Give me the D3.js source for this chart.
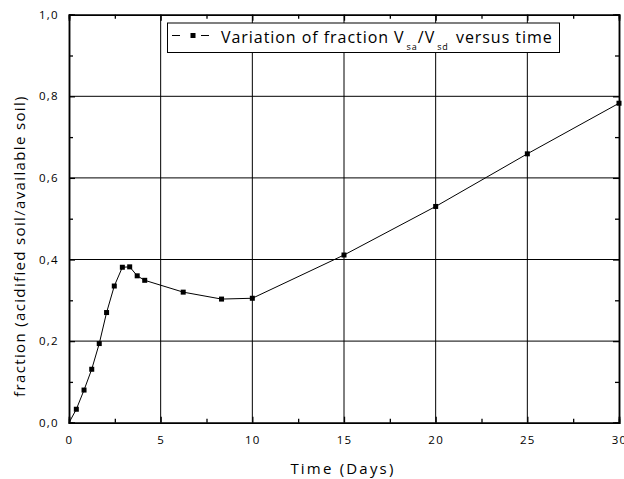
<!DOCTYPE html>
<html>
<head>
<meta charset="utf-8">
<script src="https://cdn.jsdelivr.net/npm/d3@7"></script>
<style>
  html, body { margin: 0; padding: 0; background: #fff; }
  svg { display: block; }
  text { font-family: "Open Sans", "DejaVu Sans", sans-serif; fill: #000; }
</style>
</head>
<body>
<svg id="chart" width="624" height="479"></svg>
<script>
// ---- data ----
const timeDays = [0.40, 0.82, 1.24, 1.65, 2.05, 2.47, 2.91, 3.31, 3.72, 4.13, 6.23, 8.32, 10.0, 15.0, 20.0, 25.0, 30.0];
const fraction = [0.033, 0.080, 0.131, 0.194, 0.270, 0.335, 0.381, 0.382, 0.360, 0.349, 0.320, 0.303, 0.305, 0.411, 0.530, 0.659, 0.783];
const xTicks = [0, 5, 10, 15, 20, 25, 30];
const yTicks = [0.0, 0.2, 0.4, 0.6, 0.8, 1.0];
const xMinorTicks = [2.5, 7.5, 12.5, 17.5, 22.5, 27.5];
const yMinorTicks = [0.1, 0.3, 0.5, 0.7, 0.9];
const xLabel = "Time (Days)";
const yLabel = "fraction (acidified soil/available soil)";
const legendLabel = "Variation of fraction V";

const svg = d3.select("#chart");
const pL = 69, pR = 619, pT = 14.7, pB = 422.7;

const x = d3.scaleLinear().domain([0, 30]).range([pL, pR]);
const y = d3.scaleLinear().domain([0, 1]).range([pB, pT]);
const fmt = d => d3.format(".1f")(d).replace(".", ",");

// grid
const grid = svg.append("g").attr("stroke", "#000").attr("stroke-width", 1);
grid.selectAll("line.v").data(xTicks.slice(1, -1)).enter().append("line")
  .attr("x1", d => x(d)).attr("x2", d => x(d)).attr("y1", pT).attr("y2", pB);
grid.selectAll("line.h").data(yTicks.slice(1, -1)).enter().append("line")
  .attr("x1", pL).attr("x2", pR).attr("y1", d => y(d)).attr("y2", d => y(d));

// axes
const gx = svg.append("g").attr("transform", `translate(0,${pB})`)
  .call(d3.axisBottom(x).tickValues(xTicks).tickSize(-6).tickPadding(13).tickFormat(d3.format("d")));
const gxm = svg.append("g").attr("transform", `translate(0,${pB})`)
  .call(d3.axisBottom(x).tickValues(xMinorTicks).tickSize(-4).tickFormat(""));
const gxt = svg.append("g").attr("transform", `translate(0,${pT})`)
  .call(d3.axisTop(x).tickValues(xTicks).tickSize(-6).tickFormat(""));
const gxtm = svg.append("g").attr("transform", `translate(0,${pT})`)
  .call(d3.axisTop(x).tickValues(xMinorTicks).tickSize(-4).tickFormat(""));
const gy = svg.append("g").attr("transform", `translate(${pL},0)`)
  .call(d3.axisLeft(y).tickValues(yTicks).tickSize(-6).tickPadding(10).tickFormat(fmt));
const gym = svg.append("g").attr("transform", `translate(${pL},0)`)
  .call(d3.axisLeft(y).tickValues(yMinorTicks).tickSize(-4).tickFormat(""));
const gyr = svg.append("g").attr("transform", `translate(${pR},0)`)
  .call(d3.axisRight(y).tickValues(yTicks).tickSize(-6).tickFormat(""));
const gyrm = svg.append("g").attr("transform", `translate(${pR},0)`)
  .call(d3.axisRight(y).tickValues(yMinorTicks).tickSize(-4).tickFormat(""));

[gx, gxm, gxt, gxtm, gy, gym, gyr, gyrm].forEach(g => {
  g.selectAll("path.domain").attr("stroke", "#000").attr("stroke-width", 1.5);
  g.selectAll(".tick line").attr("stroke", "#000").attr("stroke-width", 1.3);
  g.selectAll("text").attr("font-family", '"Open Sans", sans-serif').attr("font-size", 11.5)
    .attr("letter-spacing", "1.3px").attr("fill", "#000");
});

// axis titles
svg.append("text").attr("x", (pL + pR) / 2 - 1).attr("y", 474)
  .attr("text-anchor", "middle").attr("font-size", 15).attr("letter-spacing", "2.2px")
  .text(xLabel);
svg.append("text").attr("transform", `translate(25,246) rotate(-90)`)
  .attr("text-anchor", "middle").attr("font-size", 15).attr("letter-spacing", "1.35px")
  .text(yLabel);

// line
const line = d3.line().x((d, i) => x(timeDays[i])).y(d => y(d));
svg.append("path").datum(fraction).attr("d", line)
  .attr("fill", "none").attr("stroke", "#000").attr("stroke-width", 1);
svg.append("path").datum([0, fraction[0]]).attr("d", d3.line().x((d, i) => x(i === 0 ? 0 : timeDays[0])).y(d => y(d)))
  .attr("fill", "none").attr("stroke", "#000").attr("stroke-width", 1);
svg.selectAll("rect.pt").data(fraction).enter().append("rect")
  .attr("x", (d, i) => x(timeDays[i]) - 2.5).attr("y", d => y(d) - 2.5)
  .attr("width", 5).attr("height", 5).attr("fill", "#000");

// legend
const lg = svg.append("g");
lg.append("rect").attr("x", 167.5).attr("y", 23).attr("width", 392).attr("height", 29.5)
  .attr("fill", "#fff").attr("stroke", "#000").attr("stroke-width", 1);
lg.append("line").attr("x1", 172).attr("x2", 180).attr("y1", 35.5).attr("y2", 35.5).attr("stroke", "#000");
lg.append("line").attr("x1", 201).attr("x2", 209).attr("y1", 35.5).attr("y2", 35.5).attr("stroke", "#000");
lg.append("rect").attr("x", 190.5).attr("y", 33).attr("width", 5).attr("height", 5).attr("fill", "#000");
const lt = lg.append("text").attr("x", 221).attr("y", 42.5).attr("font-size", 16).attr("letter-spacing", "0.95px");
lt.append("tspan").text(legendLabel);
lt.append("tspan").attr("dx", 2).attr("dy", 7.5).attr("font-size", 9).text("sa");
lt.append("tspan").attr("dy", -7.5).text("/V");
lt.append("tspan").attr("dx", 2).attr("dy", 7.5).attr("font-size", 9).text("sd");
lt.append("tspan").attr("dx", 2).attr("dy", -7.5).text(" versus time");
</script>
</body>
</html>
